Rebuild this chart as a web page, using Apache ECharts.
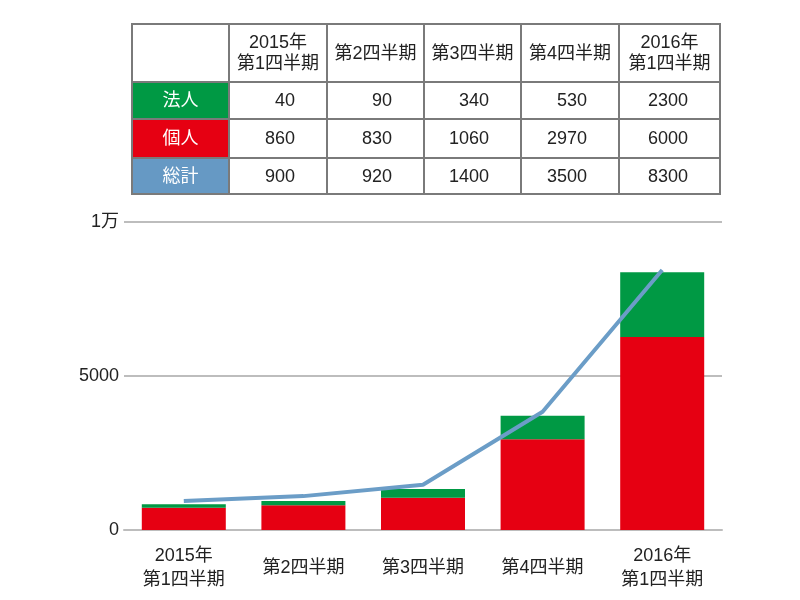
<html>
<head>
<meta charset="utf-8">
<style>
  body { margin: 0; background: #fff; }
  #wrap { position: relative; width: 800px; height: 600px; }
  #chart1 { position: absolute; left: 0; top: 0; width: 800px; height: 600px; }
  #tbl {
    position: absolute; left: 131px; top: 23px; width: 588px;
    border-collapse: collapse; table-layout: fixed;
    font-family: 'Liberation Sans', 'Noto Sans CJK JP', sans-serif;
    font-size: 18px; color: #222;
  }
  #tbl td { border: 2px solid #7a7a7a; padding: 0; line-height: 21px; }
  #tbl td.head { text-align: center; }
  #tbl td.num { text-align: right; padding-right: 31px; }
  #tbl td.lab { text-align: center; color: #fff; }
</style>
</head>
<body>
<div id="wrap">
  <div id="chart1"></div>
  <table id="tbl"></table>
</div>
<script src="https://cdn.jsdelivr.net/npm/echarts@6/dist/echarts.min.js"></script>
<script>
  // 区分
  const categories = ['2015年\n第1四半期', '第2四半期', '第3四半期', '第4四半期', '2016年\n第1四半期'];
  // 表の数値
  const rowNames = ['法人', '個人', '総計'];
  const rowColors = ['#009944', '#e60012', '#6699c4'];
  const tableCorporate = [40, 90, 340, 530, 2300];
  const tableIndividual = [860, 830, 1060, 2970, 6000];
  const tableTotal = [900, 920, 1400, 3500, 8300];
  // グラフの数値
  const barIndividual = [720, 800, 1050, 2950, 6270];
  const barCorporate = [120, 140, 280, 760, 2100];
  const lineTotal = [940, 1100, 1470, 3840, 8440];
  const yTicks = [0, 5000, 10000];

  initTable();
  initChart();

  function initTable() {
    let tbl = document.getElementById('tbl');
    let colW = [97, 98, 97, 97, 98, 101];
    let html = '<colgroup>';
    colW.forEach(function (w) { html += '<col style="width:' + w + 'px">'; });
    html += '</colgroup>';
    html += '<tr style="height:58px"><td></td>';
    categories.forEach(function (c) {
      html += '<td class="head">' + c.replace('\n', '<br>') + '</td>';
    });
    html += '</tr>';
    let rows = [tableCorporate, tableIndividual, tableTotal];
    let heights = [37, 39, 36];
    for (let i = 0; i < rows.length; i++) {
      html += '<tr style="height:' + heights[i] + 'px">';
      html += '<td class="lab" style="background:' + rowColors[i] + '">' + rowNames[i] + '</td>';
      rows[i].forEach(function (v) { html += '<td class="num">' + v + '</td>'; });
      html += '</tr>';
    }
    tbl.innerHTML = html;
  }

  function initChart() {
    let myChart = echarts.init(document.getElementById('chart1'));
    let font = "'Liberation Sans', 'Noto Sans CJK JP', sans-serif";
    let option = {
      animation: false,
      grid: { left: 124, right: 78, top: 222, bottom: 70 },
      xAxis: {
        type: 'category',
        data: categories,
        axisTick: { show: false },
        axisLine: { lineStyle: { color: '#bdbdbd', width: 2 } },
        axisLabel: {
          interval: 0, margin: 38, verticalAlign: 'middle',
          fontFamily: font, fontSize: 18, lineHeight: 24, color: '#222'
        }
      },
      yAxis: {
        type: 'value',
        min: yTicks[0], max: yTicks[yTicks.length - 1], interval: 5000,
        axisLine: { show: false },
        axisTick: { show: false },
        splitLine: { lineStyle: { color: '#bdbdbd', width: 2 } },
        axisLabel: {
          margin: 5, fontFamily: font, fontSize: 18, color: '#222',
          formatter: function (v) { return v === 10000 ? '1万' : String(v); }
        }
      },
      series: [
        {
          name: '個人', type: 'bar', stack: 'a', barWidth: 84,
          itemStyle: { color: '#e60012' }, data: barIndividual
        },
        {
          name: '法人', type: 'bar', stack: 'a', barWidth: 84,
          itemStyle: { color: '#009944' }, data: barCorporate
        },
        {
          name: '総計', type: 'line', symbol: 'none',
          lineStyle: { color: '#6b9dc7', width: 4 }, data: lineTotal
        }
      ]
    };
    myChart.setOption(option);
  }
</script>
</body>
</html>
